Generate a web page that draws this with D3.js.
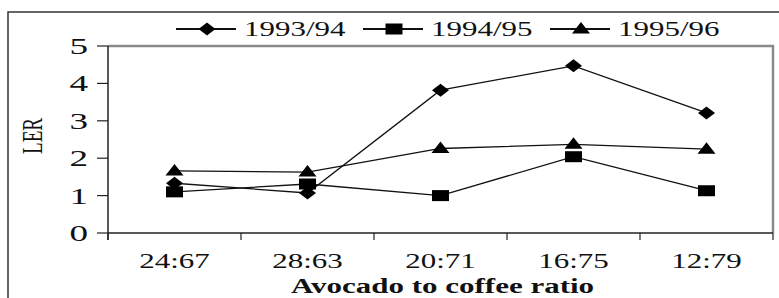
<!DOCTYPE html>
<html>
<head>
<meta charset="utf-8">
<script src="https://cdn.jsdelivr.net/npm/d3@7"></script>
<style>
  body { margin: 0; background: #fff; }
  text { font-family: "Liberation Serif", "Times New Roman", serif; fill: #111; }
</style>
</head>
<body>
<div id="chart"></div>
<script>
// 数据
var ratios = ["24:67", "28:63", "20:71", "16:75", "12:79"];
var seasons = ["1993/94", "1994/95", "1995/96"];
var ler9394 = [1.33, 1.07, 3.82, 4.47, 3.21];
var ler9495 = [1.10, 1.31, 1.00, 2.04, 1.13];
var ler9596 = [1.66, 1.63, 2.26, 2.37, 2.24];
var yTicks = [0, 1, 2, 3, 4, 5];

var series = [
    {name: seasons[0], values: ler9394, shape: "diamond"},
    {name: seasons[1], values: ler9495, shape: "square"},
    {name: seasons[2], values: ler9596, shape: "triangle"}
];

var width = 779, height = 298;
var sx = 1.55; // 原图横向拉伸
var margin = {top: 46, right: 6, bottom: 65, left: 108};

var svg = d3.select("#chart").append("svg")
    .attr("width", width)
    .attr("height", height);

// 外框
svg.append("path")
    .attr("d", "M8," + (height + 5) + "V12H" + (width + 5))
    .attr("fill", "none")
    .attr("stroke", "#333")
    .attr("stroke-width", 1.5);

var xBand = d3.scaleBand()
    .domain(ratios)
    .range([margin.left, width - margin.right]);

var yLinear = d3.scaleLinear()
    .domain([0, 5])
    .range([height - margin.bottom, margin.top]);

//绘图区边框 (上、右为灰色)
svg.append("path")
    .attr("d", "M" + margin.left + "," + yLinear(5) + "H" + (width - margin.right) + "V" + yLinear(0))
    .attr("fill", "none")
    .attr("stroke", "#8a8a8a")
    .attr("stroke-width", 2.5);

//标记形状
function markerPath(shape) {
    if (shape == "diamond") return "M0,-6.5L8.5,0L0,6.5L-8.5,0Z";
    if (shape == "square") return "M-8.5,-5.5H8.5V5.5H-8.5Z";
    return "M0,-7L9,4.5H-9Z";
}

// y 轴
var gy = svg.append("g")
    .attr("transform", "translate(" + margin.left + ",0)");
gy.append("line")
    .attr("y1", yLinear(5)).attr("y2", yLinear(0) + 7)
    .attr("stroke", "#222").attr("stroke-width", 1.5);
gy.selectAll("line.tick")
    .data(yTicks)
    .enter()
    .append("line")
    .attr("class", "tick")
    .attr("x1", -11).attr("x2", 0)
    .attr("y1", function (d) { return yLinear(d); })
    .attr("y2", function (d) { return yLinear(d); })
    .attr("stroke", "#222").attr("stroke-width", 1.2);
gy.selectAll("text")
    .data(yTicks)
    .enter()
    .append("text")
    .attr("transform", function (d) {
        return "translate(-20," + (yLinear(d) + 8) + ") scale(" + sx + ",1)";
    })
    .attr("text-anchor", "end")
    .attr("font-size", 24)
    .text(function (d) { return d; });

// x 轴
var xTickPos = ratios.map(function (d) { return xBand(d); }).concat([xBand.range()[1]]);
var gx = svg.append("g");
gx.append("line")
    .attr("x1", margin.left).attr("x2", width - margin.right)
    .attr("y1", yLinear(0)).attr("y2", yLinear(0))
    .attr("stroke", "#222").attr("stroke-width", 1.5);
gx.selectAll("line.tick")
    .data(xTickPos)
    .enter()
    .append("line")
    .attr("class", "tick")
    .attr("x1", function (d) { return d; })
    .attr("x2", function (d) { return d; })
    .attr("y1", yLinear(0)).attr("y2", yLinear(0) + 7)
    .attr("stroke", "#222").attr("stroke-width", 1.2);
gx.selectAll("text")
    .data(ratios)
    .enter()
    .append("text")
    .attr("transform", function (d) {
        return "translate(" + (xBand(d) + xBand.bandwidth() / 2) + ",268) scale(" + sx + ",1)";
    })
    .attr("text-anchor", "middle")
    .attr("font-size", 20)
    .text(function (d) { return d; });

// 轴标题
svg.append("text")
    .attr("transform", "translate(" + ((margin.left + width - margin.right) / 2 + 2) + ",293) scale(" + sx + ",1)")
    .attr("text-anchor", "middle")
    .attr("font-size", 20)
    .attr("font-weight", "bold")
    .text("Avocado to coffee ratio");

svg.append("text")
    .attr("transform", "translate(42,136) scale(" + sx + ",1) rotate(-90)")
    .attr("text-anchor", "middle")
    .attr("font-size", 19)
    .text("LER");

// 折线
var line = d3.line()
    .x(function (d, i) { return xBand(ratios[i]) + xBand.bandwidth() / 2; })
    .y(function (d) { return yLinear(d); });

var gs = svg.selectAll("g.series")
    .data(series)
    .enter()
    .append("g")
    .attr("class", "series");

gs.append("path")
    .attr("d", function (d) { return line(d.values); })
    .attr("fill", "none")
    .attr("stroke", "#111")
    .attr("stroke-width", 1.3);

gs.each(function (s) {
    d3.select(this).selectAll("path.mark")
        .data(s.values)
        .enter()
        .append("path")
        .attr("class", "mark")
        .attr("d", markerPath(s.shape))
        .attr("transform", function (d, i) {
            return "translate(" + (xBand(ratios[i]) + xBand.bandwidth() / 2) + "," + yLinear(d) + ")";
        })
        .attr("fill", "#000");
});

// 图例
var legend = svg.append("g").attr("transform", "translate(176,29)");
var item = legend.selectAll("g")
    .data(series)
    .enter()
    .append("g")
    .attr("transform", function (d, i) { return "translate(" + (i * 187) + ",0)"; });
item.append("line")
    .attr("x1", 0).attr("x2", 60)
    .attr("stroke", "#111").attr("stroke-width", 2);
item.append("path")
    .attr("d", function (d) { return markerPath(d.shape); })
    .attr("transform", "translate(31,0)")
    .attr("fill", "#000");
item.append("text")
    .attr("transform", "translate(68,7) scale(" + sx + ",1)")
    .attr("font-size", 20)
    .text(function (d) { return d.name; });
</script>
</body>
</html>
